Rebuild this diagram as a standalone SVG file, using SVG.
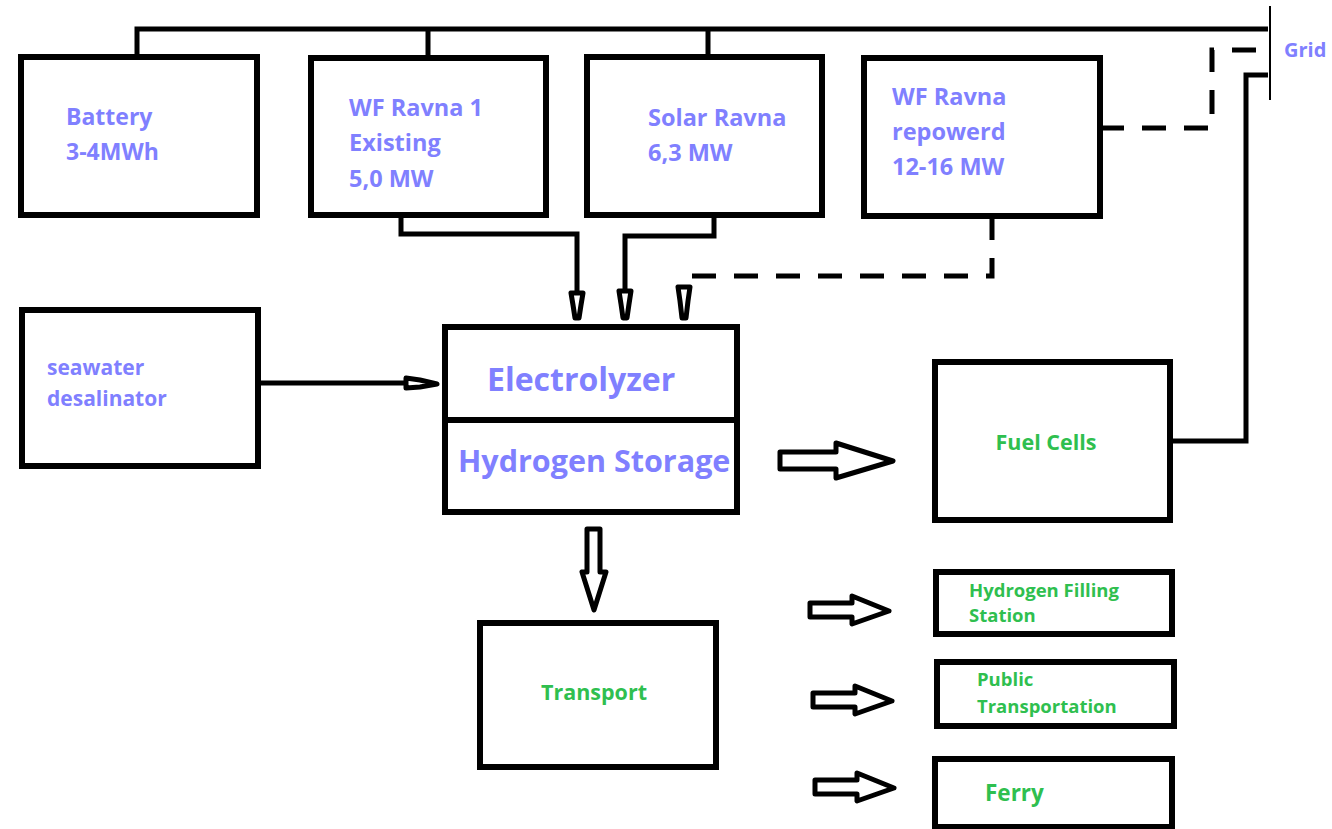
<svg xmlns="http://www.w3.org/2000/svg" width="1332" height="829" viewBox="0 0 1332 829">
<style>
.box{fill:#fff;stroke:#000;stroke-width:6}
.ln{fill:none;stroke:#000;stroke-width:5}
.dash{fill:none;stroke:#000;stroke-width:5;stroke-dasharray:24 18}
.hollow{fill:#fff;stroke:#000;stroke-width:5;stroke-linejoin:round}
.tip{fill:#fff;stroke:#000;stroke-width:5;stroke-linejoin:round}
.b{font-family:"Open Sans","Liberation Sans",sans-serif;font-weight:bold;fill:#8080ff}
.g{font-family:"Open Sans","Liberation Sans",sans-serif;font-weight:bold;fill:#2fbf4f}
</style>
<rect width="1332" height="829" fill="#fff"/>
<g id="connectors">
<path class="ln" d="M137 57V29H1268M428 29V57M708 29V57"/>
<line x1="1270" y1="6" x2="1270" y2="100" stroke="#000" stroke-width="2"/>
<path class="dash" d="M1100 128H1212V50H1268"/>
<path class="ln" d="M1171 441H1246V75H1268"/>
<path class="ln" d="M401 215V234H577V292"/>
<path class="ln" d="M714 215V236H625V290"/>
<path class="dash" d="M992 216V276H680" stroke-dasharray="42 18"/>
<polygon class="tip" points="571,293 583,293 581,305 579,318 575,318 573,305"/>
<polygon class="tip" points="619,291 631,291 629,304 627,318 623,318 621,304"/>
<polygon class="tip" points="678,287 690,287 688,301 686,318 682,318 680,301"/>
<path class="ln" d="M258 383H405"/>
<polygon class="tip" points="406,378 406,388 420,387 437,384 420,380"/>
<polygon class="hollow" points="780,452 836,452 836,443 893,461 836,478 836,469 780,469"/>
<polygon class="hollow" points="587,529 600,529 600,572 606,572 594,610 582,572 587,572"/>
<polygon class="hollow" points="810,603 852,603 852,596 889,611 852,624 852,617 810,617"/>
<polygon class="hollow" points="813,693 855,693 855,686 892,701 855,714 855,707 813,707"/>
<polygon class="hollow" points="815,780 857,780 857,773 894,788 857,801 857,794 815,794"/>
</g>
<g id="battery"><rect class="box" x="21" y="57" width="236" height="158"/>
<text class="b" font-size="23" x="66" y="125">Battery</text><text class="b" font-size="23" x="66" y="160">3-4MWh</text></g>
<g id="wf1"><rect class="box" x="311" y="58" width="235" height="157"/>
<text class="b" font-size="23.5"><tspan x="349" y="116">WF Ravna 1</tspan><tspan x="349" y="151">Existing</tspan><tspan x="349" y="187">5,0 MW</tspan></text></g>
<g id="solar"><rect class="box" x="587" y="57" width="235" height="158"/>
<text class="b" font-size="23.5"><tspan x="648" y="126">Solar Ravna</tspan><tspan x="648" y="161">6,3 MW</tspan></text></g>
<g id="wf2"><rect class="box" x="864" y="58" width="236" height="158"/>
<text class="b" font-size="23.5"><tspan x="892" y="105">WF Ravna</tspan><tspan x="892" y="140">repowerd</tspan><tspan x="892" y="175">12-16 MW</tspan></text></g>
<g id="grid"><text class="b" font-size="20" x="1284" y="57">Grid</text></g>
<g id="desal"><rect class="box" x="22" y="310" width="236" height="156"/>
<text class="b" font-size="21"><tspan x="47" y="375">seawater</tspan><tspan x="47" y="406">desalinator</tspan></text></g>
<g id="electrolyzer"><rect class="box" x="445" y="327" width="292" height="185"/>
<line x1="445" y1="420" x2="737" y2="420" stroke="#000" stroke-width="6"/>
<text class="b" font-size="32" x="487" y="391">Electrolyzer</text>
<text class="b" font-size="30.5" x="458" y="472">Hydrogen Storage</text></g>
<g id="fuelcells"><rect class="box" x="935" y="362" width="235" height="158"/>
<text class="g" font-size="21.5" x="1046" y="450" text-anchor="middle">Fuel Cells</text></g>
<g id="transport"><rect class="box" x="480" y="623" width="236" height="144"/>
<text class="g" font-size="21.5" x="594" y="700" text-anchor="middle">Transport</text></g>
<g id="filling"><rect class="box" x="936" y="572" width="236" height="62"/>
<text class="g" font-size="18.5"><tspan x="969" y="597">Hydrogen Filling</tspan><tspan x="969" y="622">Station</tspan></text></g>
<g id="public"><rect class="box" x="937" y="662" width="237" height="64"/>
<text class="g" font-size="18.5"><tspan x="977" y="686">Public</tspan><tspan x="977" y="713">Transportation</tspan></text></g>
<g id="ferry"><rect class="box" x="935" y="759" width="237" height="68"/>
<text class="g" font-size="22.5" x="985" y="801">Ferry</text></g>
</svg>
